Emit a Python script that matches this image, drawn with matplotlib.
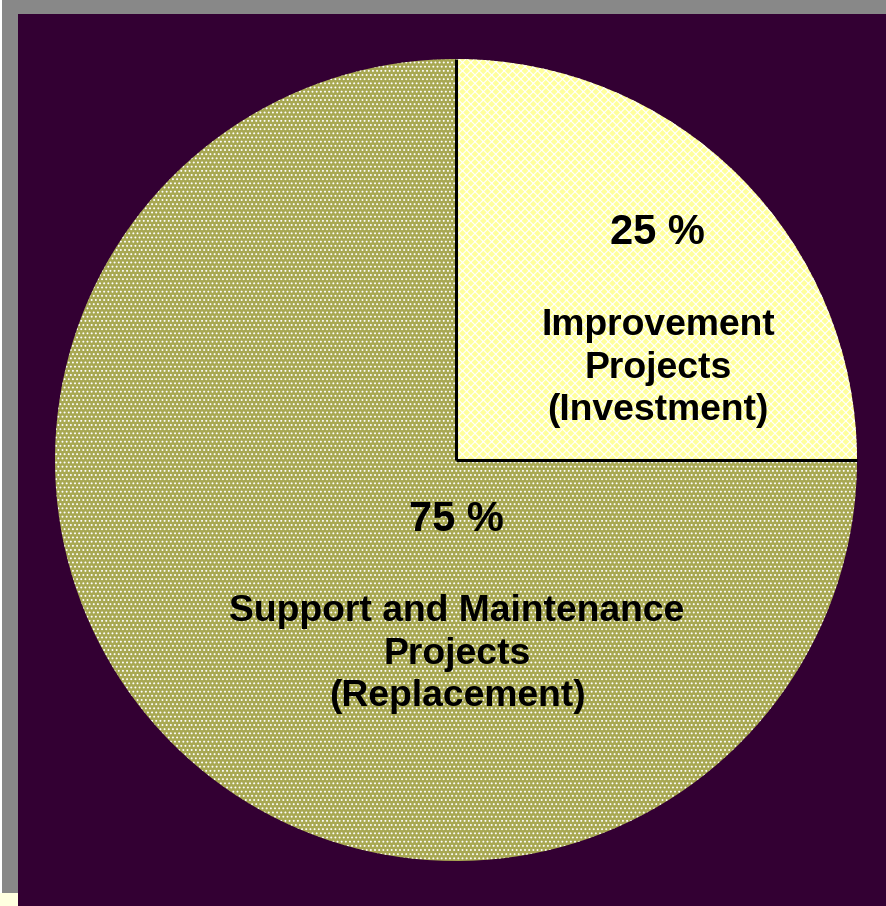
import matplotlib
matplotlib.use("Agg")
import matplotlib.pyplot as plt
from matplotlib.patches import Rectangle
import numpy as np

plt.rcParams['font.family'] = ['Liberation Sans', 'DejaVu Sans']
plt.rcParams['hatch.linewidth'] = 0.8

# Data
categories = ["Improvement\nProjects\n(Investment)",
              "Support and Maintenance\nProjects\n(Replacement)"]
values = [25, 75]
pct_labels = ["25 %", "75 %"]

W, H = 886, 906
fig = plt.figure(figsize=(W / 100, H / 100), dpi=100)
fig.patch.set_facecolor("white")
ax = fig.add_axes([0, 0, 1, 1])
ax.set_xlim(0, W)
ax.set_ylim(0, H)
ax.axis("off")

# Background panels (pixel layout, y measured from bottom)
ax.add_patch(Rectangle((2, 13), W - 2, H - 13, facecolor="#888888", edgecolor="none", zorder=0))
ax.add_patch(Rectangle((0, 0), 18, 13, facecolor="#ffffe0", edgecolor="none", zorder=0))
ax.add_patch(Rectangle((18, 0), W - 18, H - 14, facecolor="#330033", edgecolor="none", zorder=0))

cx, cy, r = 456, H - 460, 401
face_colors = ["#ffff9c", "#a8a852"]
hatches = ["xxxx", "...."]

wedges, _ = ax.pie(values, startangle=90, counterclock=False, center=(cx, cy), radius=r,
                   colors=face_colors,
                   wedgeprops=dict(edgecolor="white", linewidth=0))
for w, h in zip(wedges, hatches):
    w.set_hatch(h)
    w.set_zorder(1)

# Radial separator lines derived from data
cum = np.cumsum([0] + values) / sum(values)
for f in cum[:-1]:
    ang = np.deg2rad(90 - 360 * f)
    ax.plot([cx, cx + r * np.cos(ang)], [cy, cy + r * np.sin(ang)], color="black", lw=2.2,
            zorder=3, solid_capstyle="butt")

ax.set_xlim(0, W)
ax.set_ylim(0, H)
ax.set_aspect("auto")

# Labels
ax.text(657, H - 233, pct_labels[0], ha="center", va="center", fontsize=30, fontweight="bold",
        color="black", zorder=4)
ax.text(658, H - 368, categories[0], ha="center", va="center", fontsize=26.8, fontweight="bold",
        color="black", linespacing=1.28, zorder=4)
ax.text(456, H - 520, pct_labels[1], ha="center", va="center", fontsize=30, fontweight="bold",
        color="black", zorder=4)
ax.text(457, H - 654, categories[1], ha="center", va="center", fontsize=26.8, fontweight="bold",
        color="black", linespacing=1.28, zorder=4)

fig.savefig("out.png", dpi=100, facecolor=fig.get_facecolor())
